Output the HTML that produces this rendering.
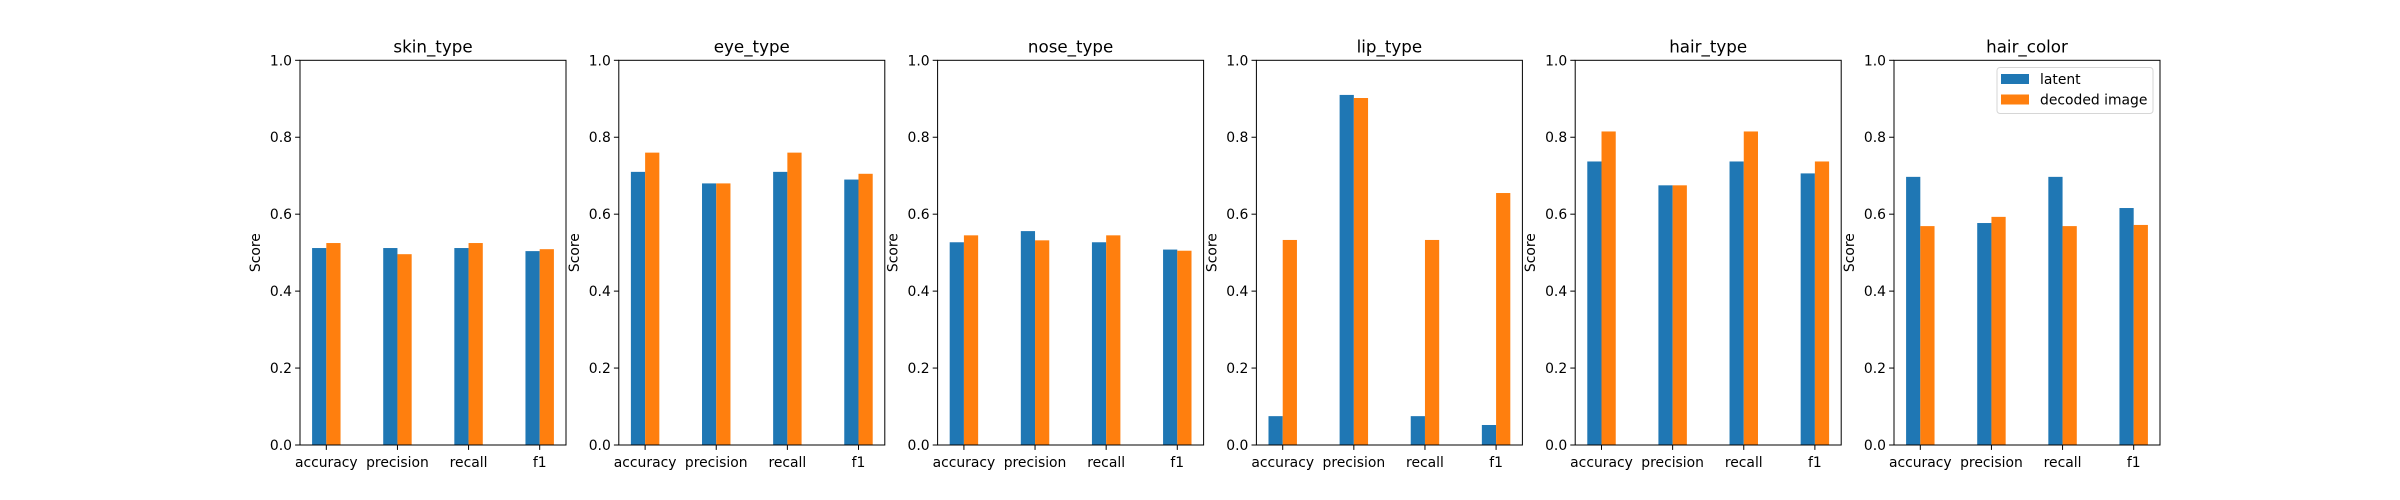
<!DOCTYPE html>
<html><head><meta charset="utf-8"><style>
html,body{margin:0;padding:0;background:#fff;}
svg{display:block;font-family:"DejaVu Sans","Liberation Sans",sans-serif;}
</style></head><body>
<svg id="fig" width="2400" height="500" viewBox="0 0 2400 500" xmlns="http://www.w3.org/2000/svg"></svg>
<script>
const titles = ["skin_type","eye_type","nose_type","lip_type","hair_type","hair_color"];
const categories = ["accuracy","precision","recall","f1"];
const latent = [
  [0.512,0.512,0.512,0.504],
  [0.710,0.680,0.710,0.690],
  [0.527,0.556,0.527,0.508],
  [0.075,0.910,0.075,0.052],
  [0.737,0.675,0.737,0.706],
  [0.697,0.577,0.697,0.616]
];
const decoded = [
  [0.525,0.496,0.525,0.509],
  [0.760,0.680,0.760,0.705],
  [0.545,0.532,0.545,0.505],
  [0.533,0.902,0.533,0.655],
  [0.815,0.675,0.815,0.737],
  [0.569,0.593,0.569,0.572]
];
const yTicks = [0,0.2,0.4,0.6,0.8,1.0];
const yTickLabels = ["0.0","0.2","0.4","0.6","0.8","1.0"];
const seriesNames = ["latent","decoded image"];

const NS="http://www.w3.org/2000/svg";
const svg=document.getElementById('fig');
function mk(tag,attrs,parent){const e=document.createElementNS(NS,tag);for(const k in attrs)e.setAttribute(k,attrs[k]);(parent||svg).appendChild(e);return e;}
const AX0=300, STEP=318.8, AW=266, TOP=60.3, BOT=445;
const xmin=-0.37, xmax=3.37;
const colors=["#1f77b4","#ff7f0e"];
titles.forEach((t,p)=>{
  const L=AX0+p*STEP;
  const g=mk('g',{});
  
  
  const xs=v=>L+(v-xmin)/(xmax-xmin)*AW;
  const ys=v=>BOT-v*(BOT-TOP);
  const bw=0.2*AW/(xmax-xmin);
  categories.forEach((c,i)=>{
    [latent[p][i],decoded[p][i]].forEach((v,s)=>{
      const x0=xs(i+(s===0?-0.2:0));
      const r=mk('rect',{x:x0,y:ys(v),width:bw,height:ys(0)-ys(v),fill:colors[s]},g);
      
      
    });
  });
  const fr=mk('rect',{x:L,y:TOP,width:AW,height:BOT-TOP,fill:'none',stroke:'#000','stroke-width':1},g);
  
  
  yTicks.forEach((v,k)=>{
    const y=ys(v);
    mk('line',{x1:L-4.9,x2:L,y1:y,y2:y,stroke:'#000','stroke-width':1},g);
    const tx=mk('text',{x:L-8,y:y+5,'text-anchor':'end','font-size':'13.9px',fill:'#000'},g);
    tx.textContent=yTickLabels[k];
    
    
  });
  categories.forEach((c,i)=>{
    const x=xs(i);
    mk('line',{x1:x,x2:x,y1:BOT,y2:BOT+4.9,stroke:'#000','stroke-width':1},g);
    const tx=mk('text',{x:x,y:BOT+22,'text-anchor':'middle','font-size':'13.9px',fill:'#000'},g);
    tx.textContent=c;
    
    
  });
  const yl=mk('text',{x:0,y:0,'text-anchor':'middle','font-size':'13.9px',fill:'#000',transform:`translate(${L-40},${(TOP+BOT)/2}) rotate(-90)`},g);
  yl.textContent='Score';
  
  
  const ti=mk('text',{x:L+AW/2,y:TOP-8,'text-anchor':'middle','font-size':'16.7px',fill:'#000'},g);
  ti.textContent=t;
  
  
});
// legend
const lg=mk('g',{});


mk('rect',{x:1997,y:67.5,width:156,height:46,rx:3,fill:'#fff',stroke:'#ccc','stroke-width':1,opacity:0.8},lg);
seriesNames.forEach((n,s)=>{
  const y=74+s*20.5;
  const r=mk('rect',{x:2001,y:y,width:28,height:10,fill:colors[s]},lg);
  
  
  const tx=mk('text',{x:2040,y:y+10,'font-size':'13.9px',fill:'#000'},lg);
  tx.textContent=n;
  
  
});
</script>
</body></html>
